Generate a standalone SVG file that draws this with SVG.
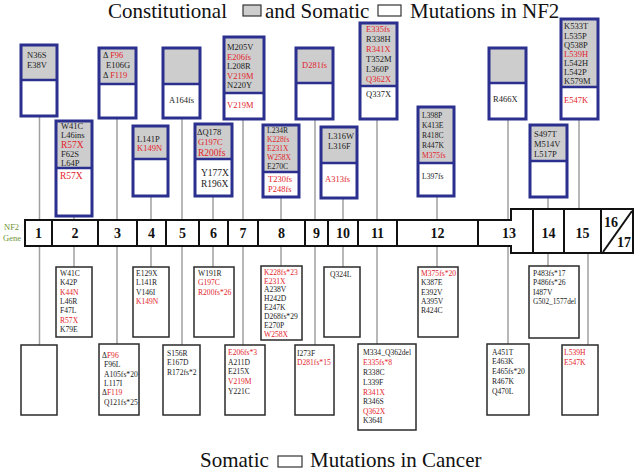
<svg xmlns="http://www.w3.org/2000/svg" width="639" height="472" viewBox="0 0 639 472">
<style>
.bg{fill:#fff}
.gf{fill:#cdcdcd}
.ob{fill:none;stroke:#2b2f8e;stroke-width:3}
.dv{stroke:#2b2f8e;stroke-width:2.5}
.lb{fill:#fff;stroke:#2a2a2a;stroke-width:1.5}
.cn{stroke:#a0a0a0;stroke-width:1.5;fill:none}
.t{font-family:"Liberation Serif","Times New Roman",serif;font-size:8.5px;fill:#222}
.s{font-size:7.6px}
.m{font-size:9.5px}
.r{fill:#e3242b}
.ttl{font-family:"Liberation Serif","Times New Roman",serif;font-size:21px;fill:#111}
.ex{font-family:"Liberation Serif","Times New Roman",serif;font-size:14px;font-weight:bold;fill:#111;text-anchor:middle}
.bar{fill:#fff;stroke:#111;stroke-width:2}
.bd{stroke:#111;stroke-width:2}
.g{font-family:"Liberation Serif","Times New Roman",serif;font-size:8.5px;fill:#6f9636}
</style>

<g id="title">
<text class="ttl" x="108" y="18">Constitutional</text>
<rect x="243" y="5" width="18" height="11" fill="#cdcdcd" stroke="#333" stroke-width="1.2"/>
<text class="ttl" x="265" y="18">and Somatic</text>
<rect x="378" y="5" width="23" height="11" fill="#fff" stroke="#333" stroke-width="1.2"/>
<text class="ttl" x="410" y="18">Mutations in NF2</text>
</g>

<g id="connectors">
<line class="cn" x1="39.5" y1="116" x2="39.5" y2="345"/>
<line class="cn" x1="74" y1="216" x2="74" y2="267"/>
<line class="cn" x1="117" y1="118" x2="117" y2="344"/>
<line class="cn" x1="151" y1="196" x2="151" y2="267"/>
<line class="cn" x1="182" y1="118" x2="182" y2="345"/>
<line class="cn" x1="213" y1="196" x2="213" y2="267"/>
<line class="cn" x1="243" y1="119" x2="243" y2="345"/>
<line class="cn" x1="281" y1="197" x2="281" y2="266"/>
<line class="cn" x1="315" y1="119" x2="315" y2="345"/>
<line class="cn" x1="343" y1="198" x2="343" y2="267"/>
<line class="cn" x1="377" y1="119" x2="377" y2="344"/>
<line class="cn" x1="437" y1="196" x2="437" y2="267"/>
<line class="cn" x1="508" y1="119" x2="508" y2="344"/>
<line class="cn" x1="548" y1="197" x2="548" y2="266"/>
<line class="cn" x1="579" y1="119" x2="579" y2="209"/>
<line class="cn" x1="588" y1="253" x2="588" y2="345"/>
</g>

<g id="gene">
<text class="g" x="4" y="230">NF2</text>
<text class="g" x="3" y="241">Gene</text>
<path class="bar" d="M25,220 H511 V209 H633 V253 H511 V246 H25 Z"/>
<g class="bd">
<line x1="52" y1="220" x2="52" y2="246"/>
<line x1="98" y1="220" x2="98" y2="246"/>
<line x1="137" y1="220" x2="137" y2="246"/>
<line x1="166" y1="220" x2="166" y2="246"/>
<line x1="199" y1="220" x2="199" y2="246"/>
<line x1="228" y1="220" x2="228" y2="246"/>
<line x1="258" y1="220" x2="258" y2="246"/>
<line x1="305" y1="220" x2="305" y2="246"/>
<line x1="328" y1="220" x2="328" y2="246"/>
<line x1="358" y1="220" x2="358" y2="246"/>
<line x1="397" y1="220" x2="397" y2="246"/>
<line x1="478" y1="220" x2="478" y2="246"/>
<line x1="533" y1="209" x2="533" y2="253"/>
<line x1="564" y1="209" x2="564" y2="253"/>
<line x1="601" y1="209" x2="601" y2="253"/>
<line x1="603" y1="252" x2="632" y2="211"/>
</g>
<text class="ex" x="38.5" y="238">1</text>
<text class="ex" x="75" y="238">2</text>
<text class="ex" x="117.5" y="238">3</text>
<text class="ex" x="151.5" y="238">4</text>
<text class="ex" x="182.5" y="238">5</text>
<text class="ex" x="213.5" y="238">6</text>
<text class="ex" x="243" y="238">7</text>
<text class="ex" x="281.5" y="238">8</text>
<text class="ex" x="316.5" y="238">9</text>
<text class="ex" x="343" y="238">10</text>
<text class="ex" x="377.5" y="238">11</text>
<text class="ex" x="437.5" y="238">12</text>
<text class="ex" x="509" y="238">13</text>
<text class="ex" x="548.5" y="238">14</text>
<text class="ex" x="582.5" y="238">15</text>
<text class="ex" x="611" y="227">16</text>
<text class="ex" x="624" y="247">17</text>
</g>

<g id="c1">
<rect class="bg" x="21" y="45" width="36" height="71"/><rect class="gf" x="21" y="45" width="36" height="35"/>
<line class="dv" x1="21" y1="80" x2="57" y2="80"/><rect class="ob" x="21" y="45" width="36" height="71"/>
<text class="t" x="27" y="58">N36S</text><text class="t" x="27" y="68">E38V</text>
</g>
<g id="c3">
<rect class="bg" x="99" y="48" width="37" height="70"/><rect class="gf" x="99" y="48" width="37" height="36"/>
<line class="dv" x1="99" y1="84" x2="136" y2="84"/><rect class="ob" x="99" y="48" width="37" height="70"/>
<text class="t" x="103" y="58">Δ <tspan class="r">F96</tspan></text>
<text class="t" x="106" y="68">E106G</text>
<text class="t" x="103" y="78">Δ <tspan class="r">F119</tspan></text>
</g>
<g id="c5">
<rect class="bg" x="163" y="48" width="37" height="70"/><rect class="gf" x="163" y="48" width="37" height="36"/>
<line class="dv" x1="163" y1="84" x2="200" y2="84"/><rect class="ob" x="163" y="48" width="37" height="70"/>
<text class="t" x="169" y="103">A164fs</text>
</g>
<g id="c7">
<rect class="bg" x="224" y="37" width="40" height="82"/><rect class="gf" x="224" y="37" width="40" height="56"/>
<line class="dv" x1="224" y1="93" x2="264" y2="93"/><rect class="ob" x="224" y="37" width="40" height="82"/>
<text class="t" x="227" y="50">M205V</text>
<text class="t r" x="227" y="60">E206fs</text>
<text class="t" x="227" y="69">L208R</text>
<text class="t r" x="227" y="79">V219M</text>
<text class="t" x="227" y="88">N220Y</text>
<text class="t r" x="227" y="108">V219M</text>
</g>
<g id="c9">
<rect class="bg" x="296" y="48" width="37" height="71"/><rect class="gf" x="296" y="48" width="37" height="35"/>
<line class="dv" x1="296" y1="83" x2="333" y2="83"/><rect class="ob" x="296" y="48" width="37" height="71"/>
<text class="t r" x="302" y="68">D281fs</text>
</g>
<g id="c11">
<rect class="bg" x="360" y="23" width="37" height="96"/><rect class="gf" x="360" y="23" width="37" height="63"/>
<line class="dv" x1="360" y1="86" x2="397" y2="86"/><rect class="ob" x="360" y="23" width="37" height="96"/>
<text class="t r" x="366" y="32">E335fs</text>
<text class="t" x="366" y="42">R338H</text>
<text class="t r" x="366" y="52">R341X</text>
<text class="t" x="366" y="62">T352M</text>
<text class="t" x="366" y="72">L360P</text>
<text class="t r" x="366" y="82">Q362X</text>
<text class="t" x="366" y="97">Q337X</text>
</g>
<g id="c13">
<rect class="bg" x="489" y="48" width="37" height="71"/><rect class="gf" x="489" y="48" width="37" height="35"/>
<line class="dv" x1="489" y1="83" x2="526" y2="83"/><rect class="ob" x="489" y="48" width="37" height="71"/>
<text class="t" x="493" y="102">R466X</text>
</g>
<g id="c15">
<rect class="bg" x="561" y="19" width="37" height="100"/><rect class="gf" x="561" y="19" width="37" height="68"/>
<line class="dv" x1="561" y1="87" x2="598" y2="87"/><rect class="ob" x="561" y="19" width="37" height="100"/>
<text class="t" x="564" y="29">K533T</text>
<text class="t" x="564" y="39">L535P</text>
<text class="t" x="564" y="48">Q538P</text>
<text class="t r" x="564" y="57">L539H</text>
<text class="t" x="564" y="66">L542H</text>
<text class="t" x="564" y="75">L542P</text>
<text class="t" x="564" y="84">K579M</text>
<text class="t r" x="564" y="103">E547K</text>
</g>

<g id="c2">
<rect class="bg" x="56" y="121" width="36" height="95"/><rect class="gf" x="56" y="121" width="36" height="47"/>
<line class="dv" x1="56" y1="168" x2="92" y2="168"/><rect class="ob" x="56" y="121" width="36" height="95"/>
<text class="t" x="61" y="129">W41C</text>
<text class="t" x="61" y="138">L46ins</text>
<text class="t r m" x="61" y="148">R57X</text>
<text class="t" x="61" y="157">F62S</text>
<text class="t" x="61" y="166">L64P</text>
<text class="t r m" x="60" y="179">R57X</text>
</g>
<g id="c4">
<rect class="bg" x="133" y="126" width="35" height="70"/><rect class="gf" x="133" y="126" width="35" height="33"/>
<line class="dv" x1="133" y1="159" x2="168" y2="159"/><rect class="ob" x="133" y="126" width="35" height="70"/>
<text class="t" x="137" y="142">L141P</text>
<text class="t r" x="137" y="151">K149N</text>
</g>
<g id="c6">
<rect class="bg" x="195" y="124" width="37" height="72"/><rect class="gf" x="195" y="124" width="37" height="35"/>
<line class="dv" x1="195" y1="159" x2="232" y2="159"/><rect class="ob" x="195" y="124" width="37" height="72"/>
<text class="t" x="197" y="135">ΔQ178</text>
<text class="t r" x="198" y="145">G197C</text>
<text class="t r m" x="198" y="156">R200fs</text>
<text class="t m" x="201" y="176">Y177X</text>
<text class="t m" x="201" y="187">R196X</text>
</g>
<g id="c8">
<rect class="bg" x="263" y="125" width="36" height="72"/><rect class="gf" x="263" y="125" width="36" height="47"/>
<line class="dv" x1="263" y1="172" x2="299" y2="172"/><rect class="ob" x="263" y="125" width="36" height="72"/>
<text class="t s" x="267" y="133">L234R</text>
<text class="t s r" x="267" y="142">K228fs</text>
<text class="t s r" x="267" y="151">E231X</text>
<text class="t s r" x="267" y="160">W258X</text>
<text class="t s" x="267" y="169">E270C</text>
<text class="t r" x="268" y="182">T230fs</text>
<text class="t r" x="268" y="192">P248fs</text>
</g>
<g id="c10">
<rect class="bg" x="321" y="127" width="36" height="71"/><rect class="gf" x="321" y="127" width="36" height="36"/>
<line class="dv" x1="321" y1="163" x2="357" y2="163"/><rect class="ob" x="321" y="127" width="36" height="71"/>
<text class="t" x="328" y="139">L316W</text>
<text class="t" x="328" y="149">L316F</text>
<text class="t r" x="325" y="182">A313fs</text>
</g>
<g id="c12">
<rect class="bg" x="418" y="107" width="36" height="89"/><rect class="gf" x="418" y="107" width="36" height="56"/>
<line class="dv" x1="418" y1="163" x2="454" y2="163"/><rect class="ob" x="418" y="107" width="36" height="89"/>
<text class="t s" x="422" y="118">L398P</text>
<text class="t s" x="422" y="128">K413E</text>
<text class="t s" x="422" y="138">R418C</text>
<text class="t s" x="422" y="148">R447K</text>
<text class="t s r" x="422" y="158">M375fs</text>
<text class="t s" x="422" y="179">L397fs</text>
</g>
<g id="c14">
<rect class="bg" x="530" y="125" width="37" height="72"/><rect class="gf" x="530" y="125" width="37" height="36"/>
<line class="dv" x1="530" y1="161" x2="567" y2="161"/><rect class="ob" x="530" y="125" width="37" height="72"/>
<text class="t" x="534" y="137">S497T</text>
<text class="t" x="534" y="147">M514V</text>
<text class="t" x="534" y="157">L517P</text>
</g>

<g id="k2">
<rect class="lb" x="56" y="267" width="36" height="70"/>
<text class="t s" x="60" y="276">W41C</text>
<text class="t s" x="60" y="285">K42P</text>
<text class="t s r" x="60" y="295">K44N</text>
<text class="t s" x="60" y="304">L46R</text>
<text class="t s" x="60" y="313">F47L</text>
<text class="t s r" x="60" y="323">R57X</text>
<text class="t s" x="60" y="332">K79E</text>
</g>
<g id="k4">
<rect class="lb" x="133" y="267" width="36" height="70"/>
<text class="t s" x="136" y="276">E129X</text>
<text class="t s" x="136" y="285">L141R</text>
<text class="t s" x="136" y="295">V146I</text>
<text class="t s r" x="136" y="304">K149N</text>
</g>
<g id="k6">
<rect class="lb" x="194" y="267" width="40" height="70"/>
<text class="t s" x="198" y="276">W191R</text>
<text class="t s r" x="198" y="285">G197C</text>
<text class="t s r" x="198" y="295">R200fs*26</text>
</g>
<g id="k8">
<rect class="lb" x="261" y="266" width="41" height="74"/>
<text class="t s r" x="264" y="275">K228fs*23</text>
<text class="t s r" x="264" y="284">E231X</text>
<text class="t s" x="264" y="292">A238V</text>
<text class="t s" x="264" y="301">H242D</text>
<text class="t s" x="264" y="310">E247K</text>
<text class="t s" x="264" y="319">D268fs*29</text>
<text class="t s" x="264" y="328">E270P</text>
<text class="t s r" x="264" y="337">W258X</text>
</g>
<g id="k10">
<rect class="lb" x="324" y="267" width="36" height="70"/>
<text class="t s" x="330" y="277">Q324L</text>
</g>
<g id="k12">
<rect class="lb" x="418" y="267" width="40" height="70"/>
<text class="t s r" x="421" y="276">M375fs*20</text>
<text class="t s" x="421" y="285">K387E</text>
<text class="t s" x="421" y="295">E392V</text>
<text class="t s" x="421" y="304">A395V</text>
<text class="t s" x="421" y="313">R424C</text>
</g>
<g id="k14">
<rect class="lb" x="529" y="266" width="50" height="72"/>
<text class="t s" x="533" y="276">P483fs*17</text>
<text class="t s" x="533" y="285">P486fs*26</text>
<text class="t s" x="533" y="295">I487V</text>
<text class="t s" x="533" y="304" textLength="43" lengthAdjust="spacingAndGlyphs">G502_1577del</text>
</g>
<g id="k1">
<rect class="lb" x="21" y="345" width="36" height="70"/>
</g>
<g id="k3">
<rect class="lb" x="99" y="344" width="40" height="71"/>
<text class="t s" x="102" y="358">Δ<tspan class="r">F96</tspan></text>
<text class="t s" x="104" y="367">F96L</text>
<text class="t s" x="104" y="377">A105fs*20</text>
<text class="t s" x="104" y="386">L117I</text>
<text class="t s" x="102" y="395">Δ<tspan class="r">F119</tspan></text>
<text class="t s" x="104" y="405">Q121fs*25</text>
</g>
<g id="k5">
<rect class="lb" x="163" y="345" width="37" height="70"/>
<text class="t s" x="167" y="356">S156R</text>
<text class="t s" x="167" y="365">E167D</text>
<text class="t s" x="167" y="375">R172fs*2</text>
</g>
<g id="k7">
<rect class="lb" x="225" y="345" width="40" height="70"/>
<text class="t s r" x="228" y="355">E206fs*3</text>
<text class="t s" x="228" y="365">A211D</text>
<text class="t s" x="228" y="374">E215X</text>
<text class="t s r" x="228" y="384">V219M</text>
<text class="t s" x="228" y="394">Y221C</text>
</g>
<g id="k9">
<rect class="lb" x="295" y="345" width="39" height="70"/>
<text class="t s" x="297" y="356">I273F</text>
<text class="t s r" x="297" y="365">D281fs*15</text>
</g>
<g id="k11">
<rect class="lb" x="358" y="344" width="58" height="86"/>
<text class="t s" x="363" y="355">M334_Q362del</text>
<text class="t s r" x="363" y="365">E335fs*8</text>
<text class="t s" x="363" y="375">R338C</text>
<text class="t s" x="363" y="385">L339F</text>
<text class="t s r" x="363" y="395">R341X</text>
<text class="t s" x="363" y="404">R346S</text>
<text class="t s r" x="363" y="414">Q362X</text>
<text class="t s" x="363" y="423">K364I</text>
</g>
<g id="k13">
<rect class="lb" x="487" y="344" width="42" height="71"/>
<text class="t s" x="492" y="355">A451T</text>
<text class="t s" x="492" y="364">E463K</text>
<text class="t s" x="492" y="374">E465fs*20</text>
<text class="t s" x="492" y="384">R467K</text>
<text class="t s" x="492" y="394">Q470L</text>
</g>
<g id="k15">
<rect class="lb" x="562" y="345" width="36" height="70"/>
<text class="t s r" x="564" y="355">L539H</text>
<text class="t s r" x="564" y="365">E547K</text>
</g>

<g id="footer">
<text class="ttl" x="200" y="467">Somatic</text>
<rect x="278" y="456" width="24" height="11" fill="#fff" stroke="#333" stroke-width="1.2"/>
<text class="ttl" x="310" y="467">Mutations in Cancer</text>
</g>
</svg>
